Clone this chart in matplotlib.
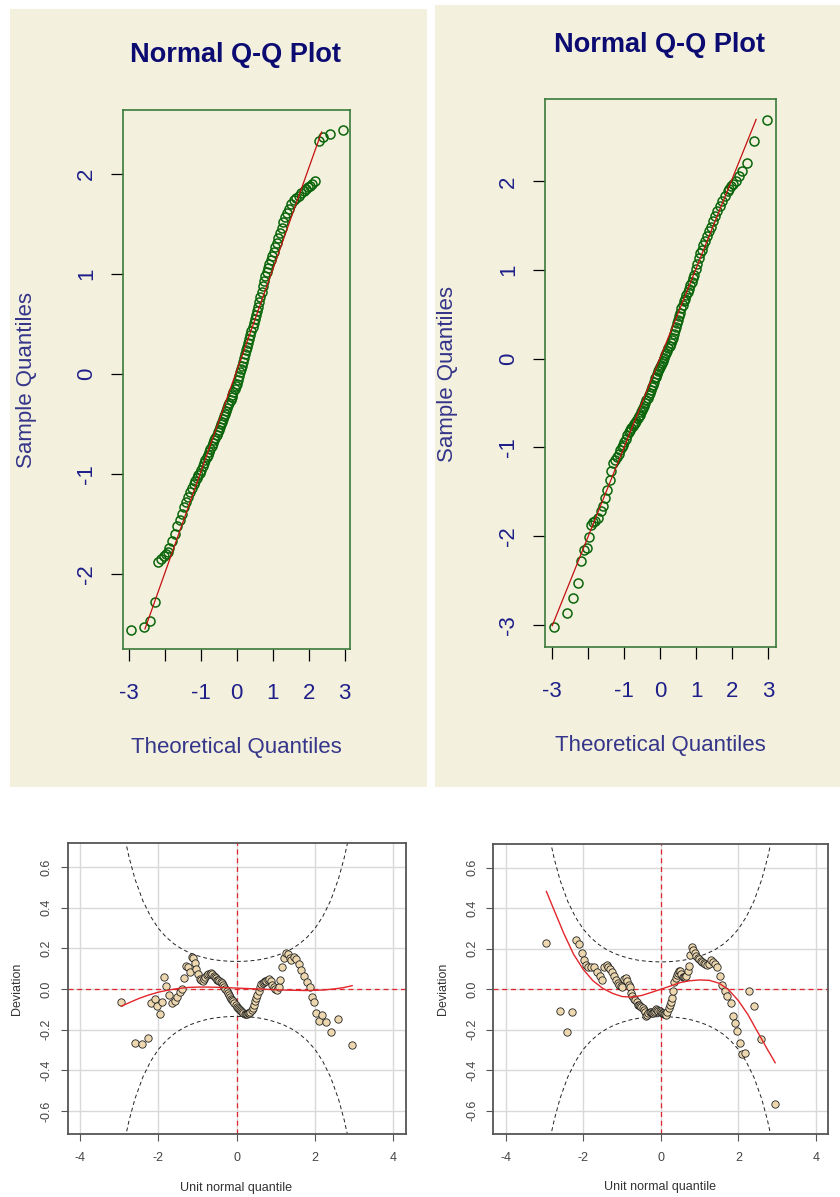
import numpy as np
import matplotlib.pyplot as plt
from matplotlib.patches import Rectangle

plt.rcParams["font.family"] = ["Liberation Sans", "DejaVu Sans"]

# theoretical normal quantiles (shared by all four panels)
theo = [
    -2.95, -2.59, -2.41, -2.28, -2.18, -2.10, -2.03, -1.97, -1.92, -1.87,
    -1.80, -1.72, -1.65, -1.58, -1.52, -1.46, -1.40, -1.35, -1.30, -1.25,
    -1.20, -1.15, -1.11, -1.07, -1.03, -0.99, -0.95, -0.91, -0.87, -0.83,
    -0.80, -0.76, -0.73, -0.69, -0.66, -0.62, -0.59, -0.56, -0.53, -0.50,
    -0.47, -0.44, -0.41, -0.38, -0.35, -0.32, -0.29, -0.26, -0.23, -0.20,
    -0.17, -0.14, -0.12, -0.09, -0.06, -0.03, 0.00, 0.03, 0.06, 0.09, 0.12, 0.14, 0.17,
    0.20, 0.23, 0.26, 0.29, 0.32, 0.35, 0.38, 0.41, 0.44, 0.47,
    0.50, 0.53, 0.56, 0.59, 0.62, 0.66, 0.69, 0.73, 0.76, 0.80,
    0.83, 0.87, 0.91, 0.95, 0.99, 1.03, 1.07, 1.11, 1.15, 1.20,
    1.25, 1.30, 1.35, 1.40, 1.46, 1.52, 1.58, 1.65, 1.72, 1.80,
    1.87, 1.92, 1.97, 2.03, 2.10, 2.18, 2.28, 2.41, 2.59, 2.95,
]

# sample quantiles, left Q-Q plot
qq_left = [
    -2.56, -2.53, -2.47, -2.28, -1.88, -1.85, -1.82, -1.80, -1.78, -1.74,
    -1.67, -1.60, -1.52, -1.46, -1.40, -1.33, -1.28, -1.23, -1.18, -1.14,
    -1.10, -1.07, -1.04, -1.01, -0.99, -0.96, -0.92, -0.89, -0.86, -0.83,
    -0.81, -0.78, -0.75, -0.72, -0.69, -0.66, -0.64, -0.61, -0.58, -0.56,
    -0.53, -0.50, -0.48, -0.45, -0.42, -0.40, -0.37, -0.34, -0.31, -0.29,
    -0.26, -0.23, -0.21, -0.18, -0.15, -0.12, -0.10, -0.06, -0.02, 0.02, 0.05, 0.08, 0.12,
    0.16, 0.20, 0.24, 0.27, 0.31, 0.35, 0.39, 0.43, 0.47, 0.51,
    0.55, 0.59, 0.63, 0.67, 0.72, 0.77, 0.82, 0.88, 0.93, 0.98,
    1.02, 1.06, 1.10, 1.14, 1.18, 1.22, 1.27, 1.31, 1.36, 1.41,
    1.46, 1.52, 1.57, 1.61, 1.65, 1.70, 1.74, 1.76, 1.78, 1.81,
    1.83, 1.85, 1.87, 1.88, 1.90, 1.93, 2.33, 2.37, 2.40, 2.44,
]

# sample quantiles, right Q-Q plot
qq_right = [
    -3.03, -2.87, -2.70, -2.53, -2.28, -2.16, -2.13, -2.01, -1.87, -1.84,
    -1.83, -1.79, -1.72, -1.66, -1.57, -1.48, -1.37, -1.27, -1.17, -1.14,
    -1.11, -1.07, -1.03, -0.99, -0.97, -0.94, -0.90, -0.86, -0.83, -0.80,
    -0.78, -0.76, -0.74, -0.72, -0.70, -0.67, -0.65, -0.63, -0.60, -0.58,
    -0.55, -0.53, -0.50, -0.47, -0.44, -0.41, -0.38, -0.35, -0.32, -0.29,
    -0.26, -0.22, -0.20, -0.17, -0.14, -0.12, -0.09, -0.07, -0.05, -0.02, 0.01, 0.04, 0.07,
    0.09, 0.12, 0.15, 0.18, 0.21, 0.24, 0.28, 0.32, 0.36, 0.40,
    0.44, 0.48, 0.52, 0.57, 0.61, 0.65, 0.68, 0.72, 0.75, 0.79,
    0.83, 0.87, 0.91, 0.95, 1.01, 1.07, 1.14, 1.19, 1.23, 1.28,
    1.33, 1.38, 1.44, 1.49, 1.55, 1.61, 1.67, 1.72, 1.78, 1.84,
    1.89, 1.92, 1.95, 1.97, 2.00, 2.06, 2.12, 2.21, 2.46, 2.69,
]

# reference lines drawn on the Q-Q plots
qq_left_line_x = [-2.55, 2.36]
qq_left_line_y = [-2.55, 2.42]
qq_right_line_x = [-2.99, 2.66]
qq_right_line_y = [-3.01, 2.70]

# worm plot deviations
worm_left = [
    -0.062, -0.265, -0.273, -0.240, -0.069, -0.050, -0.082, -0.123, -0.062, 0.060,
    0.015, -0.030, -0.070, -0.060, -0.040, -0.015, 0.000, 0.055, 0.115, 0.110,
    0.085, 0.155, 0.150, 0.125, 0.100, 0.075, 0.050, 0.045, 0.038, 0.050,
    0.060, 0.068, 0.075, 0.075, 0.080, 0.072, 0.065, 0.060, 0.052, 0.045,
    0.045, 0.040, 0.035, 0.030, 0.020, 0.010, 0.000, -0.010, -0.020, -0.030,
    -0.040, -0.050, -0.055, -0.060, -0.070, -0.080, -0.090, -0.095, -0.100, -0.105, -0.110, -0.115, -0.120,
    -0.125, -0.125, -0.122, -0.120, -0.118, -0.112, -0.105, -0.095, -0.080, -0.060,
    -0.045, -0.030, -0.010, 0.010, 0.025, 0.030, 0.035, 0.038, 0.040, 0.045,
    0.048, 0.040, 0.020, 0.008, 0.000, -0.005, 0.010, 0.045, 0.110, 0.150,
    0.175, 0.170, 0.150, 0.140, 0.155, 0.145, 0.120, 0.095, 0.065, 0.035,
    0.010, -0.040, -0.065, -0.120, -0.160, -0.130, -0.165, -0.210, -0.150, -0.275,
]

worm_right = [
    0.230, -0.106, -0.212, -0.114, 0.245, 0.225, 0.181, 0.144, 0.119, 0.110,
    0.108, 0.112, 0.085, 0.065, 0.045, 0.110, 0.118, 0.110, 0.100, 0.085,
    0.065, 0.046, 0.030, 0.020, 0.015, 0.013, 0.050, 0.058, 0.040, 0.020,
    0.010, -0.020, -0.035, -0.048, -0.055, -0.062, -0.077, -0.080, -0.083, -0.088,
    -0.095, -0.103, -0.110, -0.130, -0.125, -0.115, -0.110, -0.112, -0.118, -0.118,
    -0.110, -0.105, -0.100, -0.102, -0.106, -0.109, -0.112, -0.115, -0.118, -0.120, -0.124, -0.126, -0.110,
    -0.095, -0.080, -0.062, -0.045, -0.010, 0.035, 0.055, 0.068, 0.080, 0.090,
    0.092, 0.075, 0.062, 0.060, 0.060, 0.065, 0.090, 0.115, 0.170, 0.210,
    0.195, 0.180, 0.163, 0.155, 0.147, 0.140, 0.133, 0.128, 0.124, 0.120,
    0.125, 0.143, 0.135, 0.127, 0.110, 0.065, 0.020, -0.010, -0.035, -0.070,
    -0.131, -0.167, -0.208, -0.265, -0.322, -0.317, -0.008, -0.085, -0.248, -0.567,
]

# fitted worm curves
fit_x = [-2.95, -2.75, -2.5, -2.25, -2.0, -1.75, -1.5, -1.25, -1.0, -0.75, -0.5, -0.25, 0.0,
         0.25, 0.5, 0.75, 1.0, 1.25, 1.5, 1.75, 2.0, 2.25, 2.5, 2.75, 2.95]
fit_left = [-0.085, -0.068, -0.047, -0.030, -0.016, -0.006, 0.002, 0.007, 0.009, 0.009, 0.008, 0.006, 0.004,
            0.002, 0.0, -0.002, -0.004, -0.006, -0.007, -0.008, -0.007, -0.005, 0.0, 0.007, 0.016]
fit_right = [0.483, 0.390, 0.275, 0.173, 0.098, 0.042, 0.005, -0.020, -0.036, -0.039, -0.031, -0.016, 0.0,
             0.016, 0.033, 0.042, 0.046, 0.044, 0.030, -0.003, -0.056, -0.126, -0.212, -0.297, -0.363]

# 95% band of the worm plots
band_z = [-2.85, -2.75, -2.6, -2.4, -2.2, -2.0, -1.8, -1.6, -1.4, -1.2, -1.0, -0.8, -0.6, -0.4, -0.2, 0.0,
          0.2, 0.4, 0.6, 0.8, 1.0, 1.2, 1.4, 1.6, 1.8, 2.0, 2.2, 2.4, 2.6, 2.75, 2.85]
band_half = [0.733, 0.646, 0.540, 0.434, 0.356, 0.297, 0.254, 0.221, 0.196, 0.177, 0.163, 0.152, 0.144, 0.139, 0.136, 0.135,
             0.136, 0.139, 0.144, 0.152, 0.163, 0.177, 0.196, 0.221, 0.254, 0.297, 0.356, 0.434, 0.540, 0.646, 0.733]

BEIGE = "#f3f1dd"
GREEN = "#0b650b"
BOXGREEN = "#3b7a3b"
NAVY = "#0b0b72"
LABEL = "#35358a"
TICK = "#1f1f8a"
QQRED = "#c41010"
WRED = "#e3262b"
WHEAT = "#ecd7ae"

W, H = 840, 1197


def box(l, t, r, b):
    return [l / W, 1 - b / H, (r - l) / W, (b - t) / H]


def ftext(x, y, s, **kw):
    fig.text(x / W, 1 - y / H, s, ha="center", va="center", **kw)


fig = plt.figure(figsize=(8.4, 11.97), dpi=100)
fig.patches.append(Rectangle((10 / W, 1 - 787 / H), 417 / W, 778 / H, transform=fig.transFigure,
                             facecolor=BEIGE, edgecolor="none", zorder=-10))
fig.patches.append(Rectangle((435 / W, 1 - 787 / H), 405 / W, 782 / H, transform=fig.transFigure,
                             facecolor=BEIGE, edgecolor="none", zorder=-10))


def qq_panel(rect, sample, lx, ly, xlim, ylim, yticks):
    ax = fig.add_axes(rect)
    ax.set_facecolor(BEIGE)
    ax.plot(theo, sample, "o", mfc="none", mec=GREEN, mew=1.1, ms=6.5, zorder=2)
    ax.plot(lx, ly, color=QQRED, lw=0.9, zorder=3)
    ax.set_xlim(*xlim)
    ax.set_ylim(*ylim)
    ax.set_xticks([-3, -2, -1, 0, 1, 2, 3])
    ax.set_xticklabels(["-3", "", "-1", "0", "1", "2", "3"])
    ax.set_yticks(yticks)
    ax.set_yticklabels([str(t) for t in yticks], rotation=90, va="center")
    for s in ax.spines.values():
        s.set_color(BOXGREEN)
        s.set_linewidth(1.2)
    ax.tick_params(direction="out", length=8.6, width=0.9, color="black",
                   labelsize=16, labelcolor=TICK)
    ax.tick_params(axis="x", pad=16)
    ax.tick_params(axis="y", pad=10)
    return ax


qq_panel(box(123, 110, 350, 649), qq_left, qq_left_line_x, qq_left_line_y,
         (-3.16, 3.15), (-2.75, 2.64), [-2, -1, 0, 1, 2])
qq_panel(box(545, 99, 776, 647), qq_right, qq_right_line_x, qq_right_line_y,
         (-3.19, 3.21), (-3.25, 2.93), [-3, -2, -1, 0, 1, 2])

for cx, ty, ly, yx, yy in [(236, 55, 747, 27, 380), (660, 45, 746, 447, 374)]:
    ftext(cx, ty, "Normal Q-Q Plot", fontsize=19.5, fontweight="bold", color=NAVY)
    ftext(cx, ly, "Theoretical Quantiles", fontsize=16, color=LABEL)
    ftext(yx, yy, "Sample Quantiles", fontsize=16, color=LABEL, rotation=90)


def worm_panel(rect, dev, fit):
    ax = fig.add_axes(rect)
    ax.set_xlim(-4.32, 4.32)
    ax.set_ylim(-0.715, 0.716)
    ax.set_xticks([-4, -2, 0, 2, 4])
    ax.set_xticklabels(["-4", "-2", "0", "2", "4"])
    yt = [-0.6, -0.4, -0.2, 0.0, 0.2, 0.4, 0.6]
    ax.set_yticks(yt)
    ax.set_yticklabels(["%.1f" % v for v in yt], rotation=90, va="center")
    ax.grid(True, color="#d9d9d9", lw=1)
    ax.set_axisbelow(True)
    ax.axhline(0, color=WRED, ls=(0, (4, 3)), lw=0.9, zorder=1)
    ax.axvline(0, color=WRED, ls=(0, (4, 3)), lw=0.9, zorder=1)
    hb = np.array(band_half)
    ax.plot(band_z, hb, color="#222222", ls=(0, (4, 3)), lw=0.7, zorder=1)
    ax.plot(band_z, -hb, color="#222222", ls=(0, (4, 3)), lw=0.7, zorder=1)
    ax.plot(theo, dev, "o", mfc=WHEAT, mec="#222222", mew=0.6, ms=5.3, zorder=2)
    ax.plot(fit_x, fit, color=WRED, lw=1.0, zorder=3)
    for s in ax.spines.values():
        s.set_color("#555555")
        s.set_linewidth(1.3)
    ax.tick_params(direction="out", length=5, width=0.8, color="#555555",
                   labelsize=9, labelcolor="#444444")
    ax.tick_params(axis="x", pad=8)
    ax.tick_params(axis="y", pad=6)
    return ax


worm_panel(box(67.7, 843.3, 405.7, 1134.3), worm_left, fit_left)
worm_panel(box(493.3, 844.3, 828.3, 1134), worm_right, fit_right)

for cx, ly, yx in [(236, 1188, 17), (660, 1187, 443)]:
    ftext(cx, ly, "Unit normal quantile", fontsize=9, color="#333333")
    ftext(yx, 989, "Deviation", fontsize=9, color="#333333", rotation=90)

fig.savefig("out.png", dpi=100)
